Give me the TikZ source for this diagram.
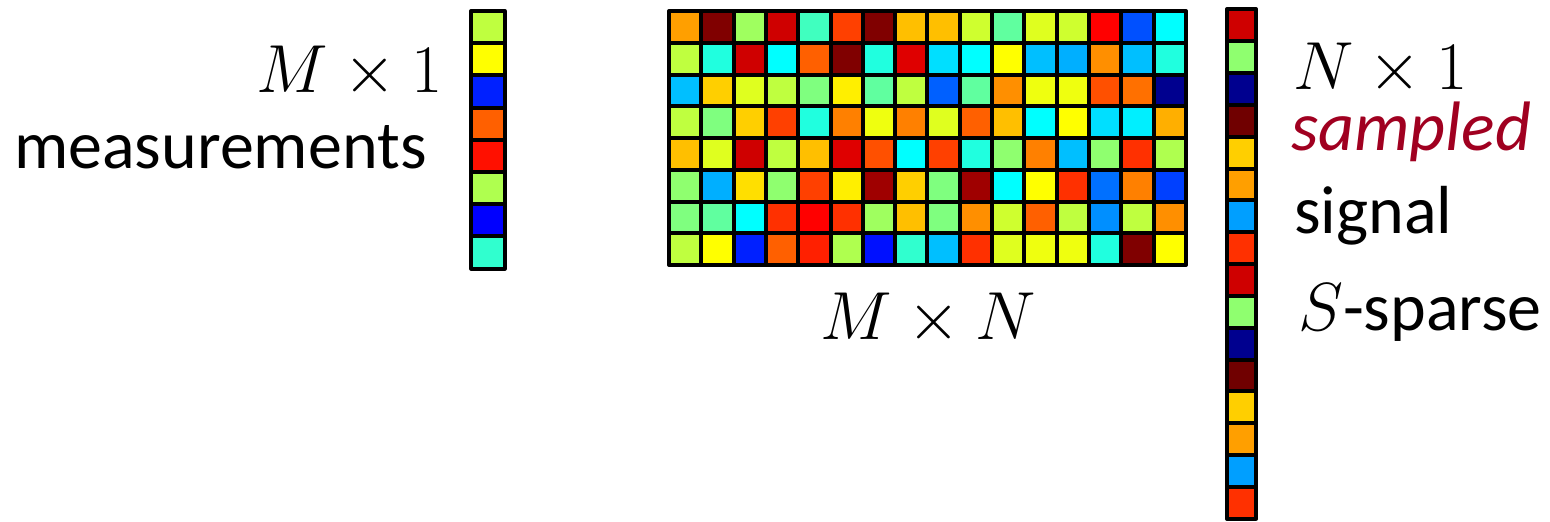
\RequirePackage{fix-cm}
\documentclass[tikz,border=0pt]{standalone}
\usepackage[no-math]{fontspec}
\setmainfont{Carlito}
\usepackage{xcolor}
\definecolor{sampledred}{RGB}{160,0,32}

\tikzset{
  cell/.style={draw=black,line width=4pt},
  lbl/.style={anchor=base west,inner sep=0pt,font=\fontsize{68}{80}\selectfont},
  dims/.style={inner sep=0pt,font=\fontsize{68}{80}\selectfont},
}

\begin{document}
\begin{tikzpicture}[x=1pt,y=-1pt,line cap=round,line join=round]
  \path[use as bounding box] (0,0) rectangle (1550,522);

  % measurement vector, M x 1
  \foreach \c [count=\k from 0] in {BFFF3F,FFFF00,0020FF,FF6000,FF1000,AFFF4F,0000FF,30FFCF} {
    \definecolor{cellfill}{HTML}{\c}
    \draw[cell,fill=cellfill] (471.3,{11+\k*32.2}) rectangle +(33.4,32.2);
  }

  % sensing matrix, M x N
  \foreach \row [count=\r from 0] in {
    {FF9F00,800000,9FFF5F,CF0000,40FFBF,FF4000,800000,FFBF00,FFBF00,CFFF2F,60FF9F,DFFF1F,CFFF2F,FF0000,0050FF,00FFFF},
    {BFFF3F,20FFDF,CF0000,00FFFF,FF6000,800000,20FFDF,DF0000,00DFFF,00FFFF,FFFF00,00BFFF,00AFFF,FF8F00,00BFFF,20FFDF},
    {00BFFF,FFCF00,DFFF1F,BFFF3F,7FFF7F,FFEF00,60FF9F,BFFF3F,0060FF,60FF9F,FF8F00,EFFF0F,EFFF0F,FF5000,FF7000,00008F},
    {BFFF3F,7FFF7F,FFCF00,FF4000,20FFDF,FF8000,EFFF0F,FF8000,DFFF1F,FF6000,FFBF00,00FFFF,FFFF00,00DFFF,00EFFF,FFAF00},
    {FFBF00,DFFF1F,CF0000,BFFF3F,FFBF00,DF0000,FF5000,00FFFF,FF4000,20FFDF,8FFF6F,FF8000,00BFFF,8FFF6F,FF3000,AFFF4F},
    {8FFF6F,00AFFF,FFDF00,8FFF6F,FF4000,FFEF00,9F0000,FFCF00,7FFF7F,9F0000,00FFFF,FFFF00,FF3000,0070FF,FF8000,0040FF},
    {7FFF7F,60FF9F,00FFFF,FF3000,FF0000,FF3000,9FFF5F,FFBF00,7FFF7F,FF8F00,CFFF2F,FF6000,BFFF3F,008FFF,BFFF3F,FF8F00},
    {BFFF3F,FFFF00,0020FF,FF6000,FF2000,AFFF4F,0010FF,30FFCF,00BFFF,FF3000,DFFF1F,EFFF0F,EFFF0F,20FFDF,800000,FFFF00}} {
    \foreach \c [count=\k from 0] in \row {
      \definecolor{cellfill}{HTML}{\c}
      \draw[cell,fill=cellfill] ({669+\k*32.3},{11+\r*31.75}) rectangle +(32.3,31.75);
    }
  }

  % signal vector, N x 1
  \foreach \c [count=\k from 0] in {CF0000,8FFF6F,00008F,700000,FFCF00,FF9F00,009FFF,FF3000,
                                    CF0000,8FFF6F,00008F,700000,FFCF00,FF9F00,009FFF,FF3000} {
    \definecolor{cellfill}{HTML}{\c}
    \draw[cell,fill=cellfill] (1227,{9.3+\k*31.84}) rectangle +(29,31.84);
  }

  \node[dims,anchor=base east] (mone) at (443,92) {$M\times 1$};
  \node[lbl] (meas) at (14,168) {measurements};

  \node[dims,anchor=base] (mn) at (928,339) {$M\times N$};

  \node[dims,anchor=base west] (none) at (1293,89) {$N\times 1$};
  \node[lbl,text=sampledred,font=\fontsize{70}{80}\selectfont\itshape] (sampled) at (1291,150) {sampled};
  \node[lbl] (signal) at (1294,233) {signal};
  \node[lbl] (sparse) at (1298,330) {$S$-sparse};
\end{tikzpicture}
\end{document}
